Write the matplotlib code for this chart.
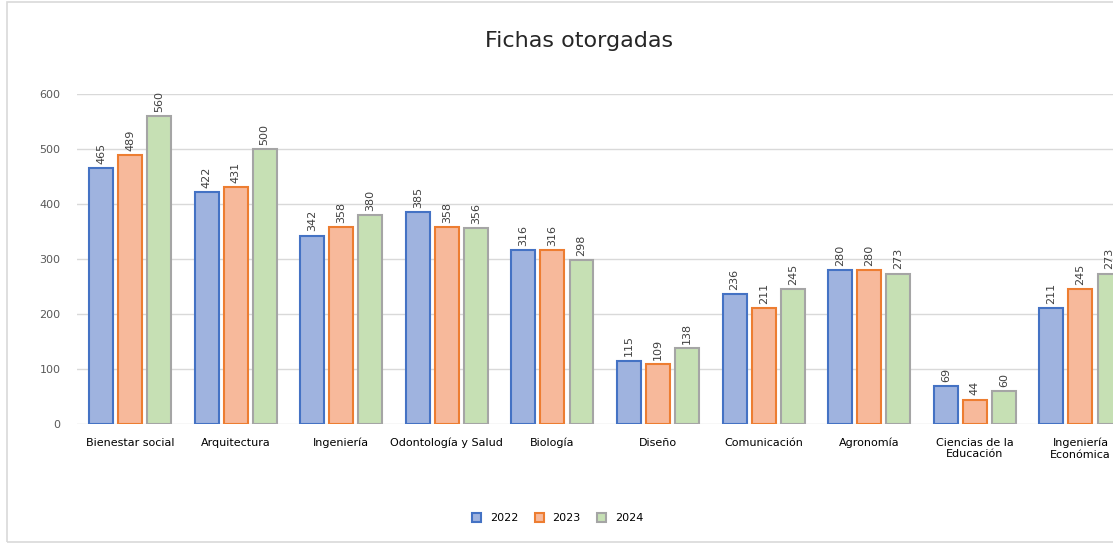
import matplotlib.pyplot as plt
import numpy as np

categories = ['Bienestar social', 'Arquitectura', 'Ingeniería', 'Odontología y Salud', 'Biología',
              'Diseño', 'Comunicación', 'Agronomía', 'Ciencias de la\nEducación', 'Ingeniería\nEconómica']
years = ['2022', '2023', '2024']
v2022 = [465, 422, 342, 385, 316, 115, 236, 280, 69, 211]
v2023 = [489, 431, 358, 358, 316, 109, 211, 280, 44, 245]
v2024 = [560, 500, 380, 356, 298, 138, 245, 273, 60, 273]

faces = ['#9fb3df', '#f7b99b', '#c6e0b4']
edges = ['#4472c4', '#ed7d31', '#a5a5a5']

fig = plt.figure(figsize=(11.13, 5.44), dpi=100)
ax = fig.add_axes([0.0694, 0.2206, 0.9488, 0.6066])

x = np.arange(len(categories))
step = 0.275
w = 0.227
for i, vals in enumerate([v2022, v2023, v2024]):
    pos = x + (i - 1) * step
    ax.bar(pos, vals, width=w, color=faces[i], edgecolor=edges[i], linewidth=1.5,
           label=years[i], zorder=3)
    for p, v in zip(pos, vals):
        ax.text(p, v + 8, str(v), rotation=90, ha='center', va='bottom',
                fontsize=8, color='#404040', zorder=4)

ax.set_xlim(-0.5, len(categories) - 0.5)
ax.set_ylim(0, 600)
ax.set_yticks(range(0, 601, 100))
ax.tick_params(axis='y', length=0, labelsize=8, labelcolor='#595959', pad=12)
ax.tick_params(axis='x', length=0, labelsize=8, pad=10)
ax.set_xticks(x)
ax.set_xticklabels(categories)
ax.grid(axis='y', color='#d9d9d9', linewidth=1, zorder=0)
for s in ax.spines.values():
    s.set_visible(False)

fig.text(0.52, 0.925, 'Fichas otorgadas', ha='center', va='center', fontsize=16, color='#262626')
ax.legend(loc='center', bbox_to_anchor=(0.455, -0.286), ncol=3, frameon=False,
          fontsize=8, handlelength=0.8, handleheight=0.8, columnspacing=1.5)

fig.patches.append(plt.Rectangle((0.006, 0.003), 1.2, 0.994, transform=fig.transFigure,
                                 fill=False, edgecolor='#d9d9d9', linewidth=1.2))
fig.savefig('out.png', dpi=100)
